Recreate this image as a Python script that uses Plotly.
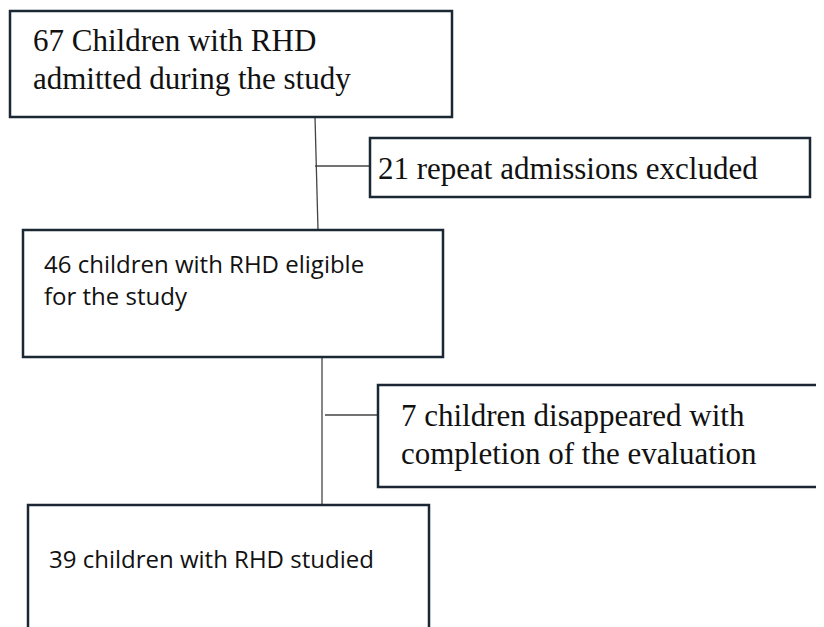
import plotly.graph_objects as go

W, H = 824, 627
PAD = 8  # page body margin

# Flowchart content
box_lines = [
    ["67 Children with RHD", "admitted during the study"],
    ["21 repeat admissions excluded"],
    ["46 children with RHD eligible", "for the study"],
    ["7 children disappeared with", "completion of the evaluation"],
    ["39 children with RHD studied"],
]
box_fonts = ["Liberation Serif", "Liberation Serif", "Open Sans", "Liberation Serif", "Open Sans"]
box_sizes = [31, 31, 24, 31, 24]

# layout geometry (pixels): x0, y0, x1, y1
box_rects = [
    (10, 11, 452, 117),
    (370, 138, 810, 197),
    (23, 230, 443, 357),
    (378, 385, 834, 487),
    (28, 505, 429, 640),
]
text_pos = [  # left x, centre y of each line
    (32, [40, 78]),
    (377, [168]),
    (43, [263, 295]),
    (400, [415, 453]),
    (48, [558]),
]
connectors = [
    ((315, 117), (318, 230)),
    ((315, 166), (370, 166)),
    ((322, 357), (322, 505)),
    ((325, 415), (378, 415)),
]

fig = go.Figure()
fig.add_trace(go.Scatter(x=[PAD, W], y=[PAD, H], mode="markers", marker=dict(opacity=0),
                         hoverinfo="skip", showlegend=False))

shapes = []
for (x0, y0), (x1, y1) in connectors:
    shapes.append(dict(type="line", x0=x0, y0=y0, x1=x1, y1=y1, xref="x", yref="y",
                       line=dict(color="#444444", width=1.3)))
for (x0, y0, x1, y1) in box_rects:
    shapes.append(dict(type="rect", x0=x0, y0=y0, x1=x1, y1=y1, xref="x", yref="y",
                       line=dict(color="#1b2733", width=2.5), fillcolor="white", layer="above"))

annotations = []
for lines, font, size, (tx, tys) in zip(box_lines, box_fonts, box_sizes, text_pos):
    for line, ty in zip(lines, tys):
        annotations.append(dict(x=tx, y=ty, xref="x", yref="y", text=line, showarrow=False,
                                xanchor="left", yanchor="middle", borderpad=0,
                                font=dict(family=font, size=size, color="#111111")))

fig.update_layout(
    width=W - PAD, height=H - PAD, margin=dict(l=0, r=0, t=0, b=0),
    paper_bgcolor="white", plot_bgcolor="white",
    xaxis=dict(range=[PAD, W], visible=False, fixedrange=True),
    yaxis=dict(range=[H, PAD], visible=False, fixedrange=True),
    shapes=shapes, annotations=annotations, showlegend=False,
)
fig.write_html("out.html", config=dict(displayModeBar=False))
